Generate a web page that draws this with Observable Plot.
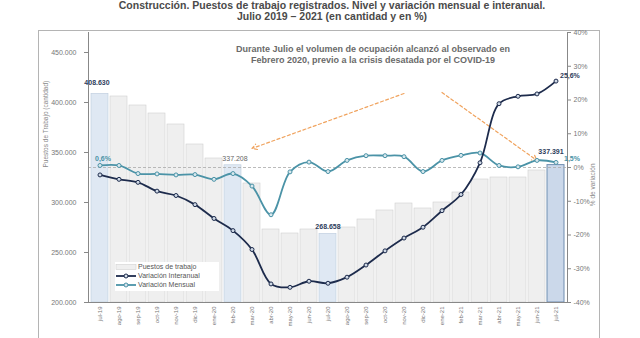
<!DOCTYPE html>
<html>
<head>
<meta charset="utf-8">
<script src="https://cdn.jsdelivr.net/npm/d3@7"></script>
<script src="https://cdn.jsdelivr.net/npm/@observablehq/plot@0.6"></script>
<style>
  html, body { margin: 0; padding: 0; background: #fff; }
  body { width: 640px; height: 338px; position: relative; overflow: hidden; font-family: "Liberation Sans", Arial, sans-serif; }
  #title { position: absolute; left: 0; top: 0; width: 664px; text-align: center; font-weight: bold; font-size: 10.5px; line-height: 11px; color: #4a4a4a; }
  #box { position: absolute; left: 38px; top: 30px; width: 560px; height: 320px; border: 1px solid #b4b4b4; }
  #chart { position: absolute; left: 0; top: 0; }
  #legend { position: absolute; left: 115px; top: 262px; width: 104px; height: 29px; background: #fff; font-size: 7px; color: #555; }
  #legend div { height: 9px; line-height: 9px; display: flex; align-items: center; white-space: nowrap; }
  #legend svg { margin-right: 1px; }
</style>
</head>
<body>
<div id="title">Construcción. Puestos de trabajo registrados. Nivel y variación mensual e interanual.<br>Julio 2019 – 2021 (en cantidad y en %)</div>
<div id="box"></div>
<div id="chart"></div>
<div id="legend"></div>
<script>
const months = ["jul-19","ago-19","sep-19","oct-19","nov-19","dic-19","ene-20","feb-20","mar-20","abr-20","may-20","jun-20","jul-20","ago-20","sep-20","oct-20","nov-20","dic-20","ene-21","feb-21","mar-21","abr-21","may-21","jun-21","jul-21"];
const puestos = [408630,406000,397000,389000,378000,358000,344000,337208,319000,273000,269000,273000,268658,275000,283000,292000,299000,294000,300000,310000,323000,325000,325000,332000,337391];
const interanual = [-2.2,-3.5,-4.4,-7.0,-8.3,-11.0,-15.1,-18.7,-24.3,-34.5,-35.5,-33.7,-34.3,-32.5,-28.9,-24.7,-20.9,-17.7,-12.8,-8.0,1.4,18.9,21.1,21.8,25.6];
const mensual = [0.6,0.6,-1.8,-1.9,-2.2,-2.1,-3.5,-1.8,-5.5,-14.0,-1.3,1.6,-1.2,2.1,3.5,3.5,3.2,-1.2,2.1,3.6,4.3,0.6,0.2,2.1,1.5];

const countTicks = [200000,250000,300000,350000,400000,450000];
const pctTicks = [-40,-30,-20,-10,0,10,20,30,40];
const highlighted = ["jul-19","feb-20","jul-20"];
const current = "jul-21";

const annotation = "Durante Julio el volumen de ocupación alcanzó al observado en\nFebrero 2020, previo a la crisis desatada por el COVID-19";
const arrowFrom = ["nov-20","ene-21"];
const arrowFromValue = [409000, 410000];
const arrowTo = ["mar-20","jun-21"];
const arrowToValue = [354000, 342000];

const yMin = 200000, yMax = 470000, pMin = -40, pMax = 40;
const toCount = p => yMin + (p - pMin) / (pMax - pMin) * (yMax - yMin);
const toPct = v => (v - yMin) / (yMax - yMin) * (pMax - pMin) + pMin;
const fmtCount = v => d3.format(",")(v).replace(/,/g, ".");
const fmtPct = p => (p.toFixed(1)).replace(".", ",") + "%";

const data = months.map((m, i) => ({month: m, puestos: puestos[i], inter: toCount(interanual[i]), mens: toCount(mensual[i]), interP: interanual[i], mensP: mensual[i]}));
const byMonth = new Map(data.map(d => [d.month, d]));
const arrows = arrowFrom.map((m, i) => ({x1: m, y1: arrowFromValue[i], x2: arrowTo[i], y2: arrowToValue[i]}));

const navy = "#1d2b4c";
const teal = "#4b93a7";
const orange = "#f0a35e";
const darkLabel = "#2e3d5c";

const barLabel = (m, dx, dy, fill, weight) =>
  Plot.text([byMonth.get(m)], {x: "month", y: "puestos", text: d => fmtCount(d.puestos), dx, dy, fontSize: 7, fontWeight: weight, fill});

const chart = Plot.plot({
  width: 640,
  height: 338,
  marginTop: 32,
  marginBottom: 36,
  marginLeft: 88,
  marginRight: 73,
  style: {fontFamily: "Liberation Sans, Arial, sans-serif", fontSize: "7px", color: "#777", background: "transparent", overflow: "visible"},
  x: {type: "band", domain: months, paddingInner: 0.1, paddingOuter: 0.05, label: null},
  y: {domain: [yMin, yMax], label: null},
  marks: [
    Plot.barY(data, {
      x: "month", y1: yMin, y2: "puestos",
      fill: d => d.month === current ? "#cbd8ea" : highlighted.includes(d.month) ? "#dfe8f3" : "#efefef",
      stroke: d => d.month === current ? "#6f8db0" : highlighted.includes(d.month) ? "#bccbdd" : "#cfcfcf",
      strokeWidth: d => d.month === current ? 1 : 0.6
    }),
    Plot.ruleY([toCount(0)], {stroke: "#a9a9a9", strokeDasharray: "3,2", strokeWidth: 0.8}),
    Plot.axisY(countTicks, {anchor: "left", tickFormat: fmtCount, tickSize: 4, tickPadding: 8, fontSize: 7, stroke: "#888", fill: "#777", label: null}),
    Plot.axisY(pctTicks.map(toCount), {anchor: "right", tickFormat: v => Math.round(toPct(v)) + "%", tickSize: 3, tickPadding: 3, fontSize: 7, stroke: "#888", fill: "#777", label: null}),
    Plot.axisX({tickRotate: -90, tickSize: 0, tickPadding: 4, fontSize: 6, fill: "#777", label: null}),
    Plot.frame({anchor: "left", stroke: "#888"}),
    Plot.frame({anchor: "right", stroke: "#888"}),
    Plot.frame({anchor: "bottom", stroke: "#888"}),
    Plot.text(["Puestos de Trabajo (cantidad)"], {frameAnchor: "left", dx: -43, rotate: -90, fontSize: 6.5, fill: "#888"}),
    Plot.text(["% de variación"], {frameAnchor: "right", dx: 25, dy: -4, rotate: -90, fontSize: 6.5, fill: "#888"}),
    Plot.text([annotation], {frameAnchor: "top", dx: 45, dy: 11, fontSize: 9, fontWeight: "bold", fill: "#6a6a6a", lineHeight: 1.25}),
    Plot.arrow(arrows, {x1: "x1", y1: "y1", x2: "x2", y2: "y2", stroke: orange, strokeWidth: 1.2, strokeDasharray: "3,2.5", headLength: 7}),
    Plot.line(data, {x: "month", y: "mens", stroke: teal, strokeWidth: 1.8, curve: "catmull-rom"}),
    Plot.dot(data, {x: "month", y: "mens", r: 2, stroke: teal, fill: "#d9e8ee", strokeWidth: 1}),
    Plot.line(data, {x: "month", y: "inter", stroke: navy, strokeWidth: 1.8, curve: "catmull-rom"}),
    Plot.dot(data, {x: "month", y: "inter", r: 2, stroke: navy, fill: "#cfd9e6", strokeWidth: 1}),
    barLabel("jul-19", -3, -11, darkLabel, "bold"),
    barLabel("feb-20", 2, -7, "#666", "normal"),
    barLabel("jul-20", 0, -7, darkLabel, "bold"),
    barLabel("jul-21", -5, -13, darkLabel, "bold"),
    Plot.text([byMonth.get("jul-19")], {x: "month", y: "mens", text: d => fmtPct(d.mensP), dy: -7, dx: 3, fontSize: 7, fontWeight: "bold", fill: teal}),
    Plot.text([byMonth.get("jul-21")], {x: "month", y: "inter", text: d => fmtPct(d.interP), dy: -5, dx: 4, textAnchor: "start", fontSize: 7, fontWeight: "bold", fill: darkLabel}),
    Plot.text([byMonth.get("jul-21")], {x: "month", y: "mens", text: d => fmtPct(d.mensP), dy: -4, dx: 8, textAnchor: "start", fontSize: 7, fontWeight: "bold", fill: teal})
  ]
});
document.getElementById("chart").appendChild(chart);

const legendItems = [
  {label: "Puestos de trabajo", type: "bar", color: "#efefef"},
  {label: "Variación Interanual", type: "line", color: navy},
  {label: "Variación Mensual", type: "line", color: teal}
];
const legend = document.getElementById("legend");
for (const it of legendItems) {
  const row = document.createElement("div");
  const sw = it.type === "bar"
    ? `<svg width="22" height="8"><rect x="1" y="1.5" width="20" height="5" fill="${it.color}" stroke="#d0d0d0" stroke-width="0.6"/></svg>`
    : `<svg width="22" height="8"><line x1="1" x2="21" y1="4" y2="4" stroke="${it.color}" stroke-width="1.8"/><circle cx="11" cy="4" r="2" fill="#d9e3ec" stroke="${it.color}" stroke-width="1"/></svg>`;
  row.innerHTML = sw + "<span>" + it.label + "</span>";
  legend.appendChild(row);
}
</script>
</body>
</html>
